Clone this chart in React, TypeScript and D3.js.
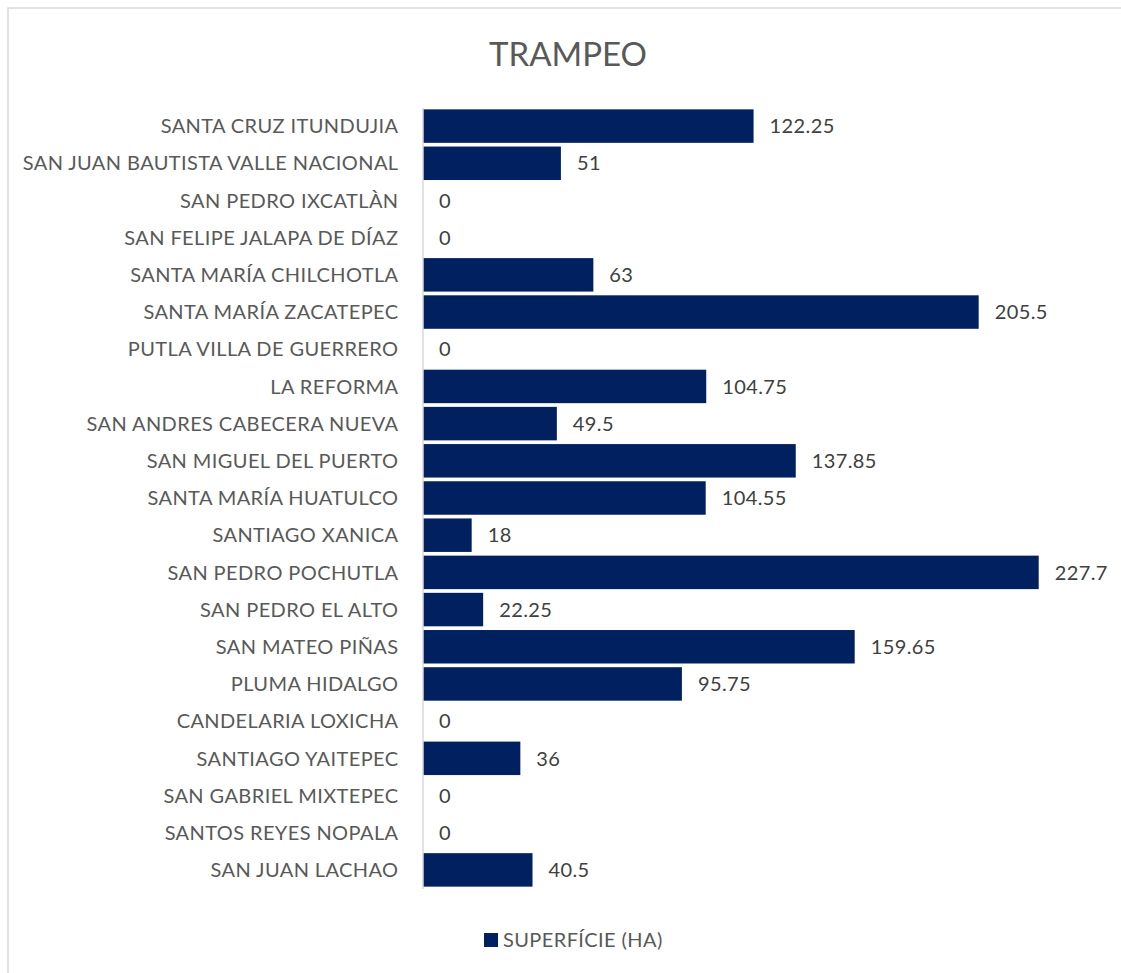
import React, { useRef, useEffect } from "react";
import * as d3 from "d3";

const title = "TRAMPEO";
const seriesName = "SUPERFÍCIE (HA)";
const municipios = [
  "SANTA CRUZ ITUNDUJIA",
  "SAN JUAN BAUTISTA VALLE NACIONAL",
  "SAN PEDRO IXCATLÀN",
  "SAN FELIPE JALAPA DE DÍAZ",
  "SANTA MARÍA CHILCHOTLA",
  "SANTA MARÍA ZACATEPEC",
  "PUTLA VILLA DE GUERRERO",
  "LA REFORMA",
  "SAN ANDRES CABECERA NUEVA",
  "SAN MIGUEL DEL PUERTO",
  "SANTA MARÍA HUATULCO",
  "SANTIAGO XANICA",
  "SAN PEDRO POCHUTLA",
  "SAN PEDRO EL ALTO",
  "SAN MATEO PIÑAS",
  "PLUMA HIDALGO",
  "CANDELARIA LOXICHA",
  "SANTIAGO YAITEPEC",
  "SAN GABRIEL MIXTEPEC",
  "SANTOS REYES NOPALA",
  "SAN JUAN LACHAO",
];
const superficie = [
  122.25, 51, 0, 0, 63, 205.5, 0, 104.75, 49.5, 137.85, 104.55, 18, 227.7,
  22.25, 159.65, 95.75, 0, 36, 0, 0, 40.5,
];

const W = 1121;
const H = 973;
const FONT = "Lato, 'Open Sans', sans-serif";
const GRAY = "#595959";
const NAVY = "#002060";

const App = () => {
  const svgRef = useRef<SVGSVGElement>(null);

  useEffect(() => {
    const svg = d3.select(svgRef.current);
    svg.selectAll("*").remove();

    const data = municipios.map((m, i) => ({ name: m, value: superficie[i] }));

    // chart frame (runs off the right and bottom of the picture)
    svg
      .append("rect")
      .attr("x", 8)
      .attr("y", 8)
      .attr("width", W + 20)
      .attr("height", H + 20)
      .attr("fill", "white")
      .attr("stroke", "#d9d9d9")
      .attr("stroke-width", 1.5);

    const x = d3.scaleLinear().domain([0, 250]).range([423, 1099]);
    const y = d3
      .scaleBand()
      .domain(municipios)
      .range([107.5, 888.5])
      .paddingInner(0.1)
      .paddingOuter(0.05);

    // title
    svg
      .append("text")
      .attr("x", 568)
      .attr("y", 65.5)
      .attr("text-anchor", "middle")
      .attr("font-family", FONT)
      .attr("font-size", 33)
      .attr("fill", GRAY)
      .text(title);

    // bars
    svg
      .append("g")
      .selectAll("rect")
      .data(data)
      .join("rect")
      .attr("x", x(0))
      .attr("y", (d) => y(d.name)!)
      .attr("width", (d) => x(d.value) - x(0))
      .attr("height", y.bandwidth())
      .attr("fill", NAVY);

    // value labels
    svg
      .append("g")
      .selectAll("text")
      .data(data)
      .join("text")
      .attr("x", (d) => x(d.value) + 16)
      .attr("y", (d) => y(d.name)! + y.bandwidth() / 2)
      .attr("dy", "0.36em")
      .attr("font-family", FONT)
      .attr("font-size", 20)
      .attr("letter-spacing", 0.4)
      .attr("fill", "#404040")
      .text((d) => String(d.value));

    // category axis
    const yAxis = svg
      .append("g")
      .attr("transform", `translate(${x(0) - 0.5},0)`)
      .call(d3.axisLeft(y).tickSize(0).tickPadding(24));
    yAxis.select(".domain").attr("stroke", "#d9d9d9").attr("stroke-width", 1.5);
    yAxis
      .selectAll("text")
      .attr("dy", "0.36em")
      .attr("font-family", FONT)
      .attr("font-size", 20)
      .attr("letter-spacing", 0.4)
      .attr("fill", GRAY);

    // legend
    const lg = svg.append("g").attr("transform", "translate(484,933)");
    lg.append("rect").attr("width", 14).attr("height", 14).attr("fill", NAVY);
    lg.append("text")
      .attr("x", 19)
      .attr("y", 7)
      .attr("dy", "0.36em")
      .attr("font-family", FONT)
      .attr("font-size", 20)
      .attr("letter-spacing", 0.4)
      .attr("fill", GRAY)
      .text(seriesName);
  }, []);

  return (
    <svg
      ref={svgRef}
      width={W}
      height={H}
      style={{ position: "absolute", left: 0, top: 0 }}
    ></svg>
  );
};

export default App;
